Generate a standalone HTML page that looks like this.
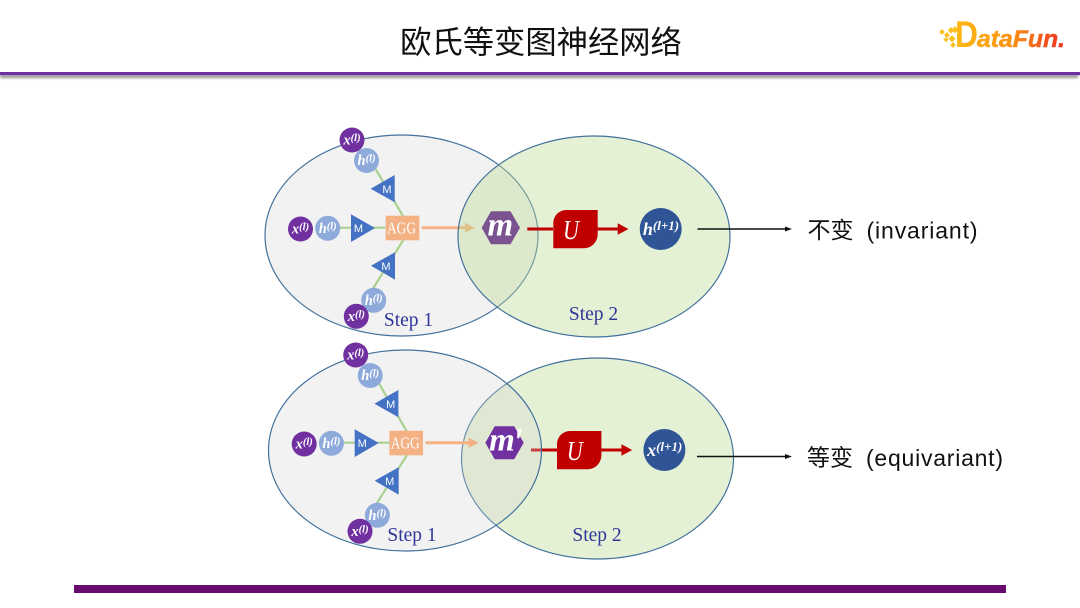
<!DOCTYPE html>
<html>
<head>
<meta charset="utf-8">
<style>
html,body{margin:0;padding:0;background:#fff;width:1080px;height:608px;overflow:hidden}
svg{display:block}
.v{font-family:"Liberation Serif",serif;font-weight:bold;font-style:italic;fill:#fff;text-anchor:middle}
.m{font-family:"Liberation Sans",sans-serif;font-size:11px;fill:#fff;text-anchor:middle}
.a{font-family:"Liberation Serif",serif;font-size:17px;fill:#fff}
.s{font-family:"Liberation Serif",serif;font-size:19.5px;fill:#2f3699;text-anchor:middle}
.l{font-family:"Liberation Sans","Noto Sans CJK SC",sans-serif;font-size:23px;fill:#111}
</style>
</head>
<body>
<svg width="1080" height="608" viewBox="0 0 1080 608" xmlns="http://www.w3.org/2000/svg">
<defs>
<linearGradient id="lg" x1="955" x2="1066" y1="0" y2="0" gradientUnits="userSpaceOnUse">
<stop offset="0" stop-color="#fdb813"/><stop offset=".5" stop-color="#fb9414"/><stop offset="1" stop-color="#ee2f24"/>
</linearGradient>
<filter id="bl" x="-5%" y="-200%" width="110%" height="500%"><feGaussianBlur stdDeviation="1.2"/></filter>
</defs>

<!-- header -->
<rect x="0" y="75" width="1078" height="3" fill="#8f8f8f" filter="url(#bl)"/>
<rect x="0" y="72" width="1080" height="3.2" fill="#7030a0"/>
<text x="541" y="53" text-anchor="middle" font-family="'Liberation Sans','Noto Sans CJK SC',sans-serif" font-size="31.3" fill="#111">欧氏等变图神经网络</text>

<!-- logo -->
<g fill="#fdc01a">
<rect x="940" y="30" width="4" height="4" transform="rotate(45 942 32)"/>
<rect x="945" y="33" width="4" height="4" transform="rotate(45 947 35)"/>
<rect x="949" y="28" width="4.5" height="4.5" transform="rotate(45 951 30)"/>
<rect x="953" y="27" width="5" height="5" transform="rotate(45 955 29)"/>
<rect x="950" y="36" width="5" height="5" transform="rotate(45 952 38)"/>
<rect x="944" y="38" width="3.5" height="3.5" transform="rotate(45 946 40)"/>
<rect x="951" y="43" width="4" height="4" transform="rotate(45 953 45)"/>
</g>
<text x="955" y="47" font-family="'Liberation Sans',sans-serif" font-weight="bold" font-size="37" fill="url(#lg)" textLength="23" lengthAdjust="spacingAndGlyphs">D</text>
<text x="977" y="47" font-family="'Liberation Sans',sans-serif" font-weight="bold" font-style="italic" font-size="24" fill="url(#lg)" stroke="url(#lg)" stroke-width=".5" textLength="88" lengthAdjust="spacingAndGlyphs">ataFun.</text>

<!-- TOP -->
<ellipse cx="401.5" cy="235.5" rx="136.5" ry="100.5" fill="#f2f2f2" stroke="#41719c" stroke-width="1.2"/>
<g fill="none" stroke="#a9d18e" stroke-width="2.2">
<path d="M375 168L403.3 216.7"/><path d="M340 227.7H385.7"/><path d="M403.3 240L373.3 288"/>
</g>
<circle cx="352" cy="140" r="12.5" fill="#7030a0"/>
<text class="v" x="352" y="144.5" font-size="14.5">x<tspan font-size="10.5" dy="-3.5">(l)</tspan></text>
<circle cx="366.5" cy="160.5" r="12.5" fill="#8eaadb"/>
<text class="v" x="366.5" y="165" font-size="14.5">h<tspan font-size="10.5" dy="-3.5">(l)</tspan></text>
<polygon points="370.7,188.7 394.7,175 394.7,202.3" fill="#4472c4"/>
<text class="m" x="387" y="193">M</text>
<circle cx="300.5" cy="229" r="12.5" fill="#7030a0"/>
<text class="v" x="300.5" y="233.5" font-size="14.5">x<tspan font-size="10.5" dy="-3.5">(l)</tspan></text>
<circle cx="327.7" cy="228.3" r="12.5" fill="#8eaadb"/>
<text class="v" x="327.7" y="232.8" font-size="14.5">h<tspan font-size="10.5" dy="-3.5">(l)</tspan></text>
<polygon points="351,214.3 351,242 375,228" fill="#4472c4"/>
<text class="m" x="358.5" y="232">M</text>
<rect x="385.7" y="215.7" width="33.6" height="24.6" fill="#f4b183"/>
<text class="a" x="387" y="233.5" textLength="29" lengthAdjust="spacingAndGlyphs">AGG</text>
<polygon points="371,265.7 395,252.3 395,279.7" fill="#4472c4"/>
<text class="m" x="386" y="270">M</text>
<circle cx="373.7" cy="300.3" r="12.5" fill="#8eaadb"/>
<text class="v" x="373.7" y="304.8" font-size="14.5">h<tspan font-size="10.5" dy="-3.5">(l)</tspan></text>
<circle cx="356.3" cy="316.3" r="12.5" fill="#7030a0"/>
<text class="v" x="356.3" y="320.8" font-size="14.5">x<tspan font-size="10.5" dy="-3.5">(l)</tspan></text>
<text class="s" x="408.5" y="326">Step 1</text>
<path d="M421.7 227.7H466" stroke="#f4b183" stroke-width="3" fill="none"/>
<polygon points="465,222.7 475,227.7 465,232.7" fill="#f4b183"/>
<ellipse cx="594" cy="236.5" rx="136" ry="100.5" fill="#bedc96" fill-opacity=".4" stroke="#41719c" stroke-width="1.2"/>
<polygon points="481.7,227.8 491,211.3 510.5,211.3 520,227.8 510.5,244.3 491,244.3" fill="#7a5290"/>
<text class="v" x="500.3" y="235.5" font-size="33">m</text>
<path d="M527.3 229H553" stroke="#c00000" stroke-width="3" fill="none"/>
<path d="M566.3 210H597.7V234.3A14 14 0 0 1 583.7 248.3H553.3V223A13 13 0 0 1 566.3 210Z" fill="#c00000"/>
<text x="563" y="239" font-family="'Liberation Serif',serif" font-style="italic" font-size="27" fill="#fff" textLength="16" lengthAdjust="spacingAndGlyphs">U</text>
<path d="M597 229H619" stroke="#c00000" stroke-width="3" fill="none"/>
<polygon points="617.7,223.3 628.5,229 617.7,234.7" fill="#c00000"/>
<circle cx="660.7" cy="229" r="21" fill="#2f5597"/>
<text class="v" x="661" y="235" font-size="18">h<tspan font-size="13" dy="-5">(l+1)</tspan></text>
<text class="s" x="593.5" y="320">Step 2</text>
<path d="M697.5 229H787" stroke="#111" stroke-width="1.4" fill="none"/>
<polygon points="785,226.5 792,229 785,231.5" fill="#111"/>
<text class="l" x="807.5" y="238">不变</text>
<text class="l" x="866.5" y="238.5" textLength="111">(invariant)</text>

<!-- BOTTOM -->
<ellipse cx="597.5" cy="458.5" rx="136" ry="100.5" fill="#e5f1d5" stroke="#41719c" stroke-width="1.2"/>
<path d="M531 450H557" stroke="#c00000" stroke-width="3" fill="none"/>
<ellipse cx="405" cy="450.5" rx="136.5" ry="100.5" fill="#d3d3d3" fill-opacity=".3" stroke="#41719c" stroke-width="1.2"/>
<g fill="none" stroke="#a9d18e" stroke-width="2.2">
<path d="M378.7 383L407 431.7"/><path d="M343.7 442.7H389.4"/><path d="M407 455L377 503"/>
</g>
<circle cx="355.7" cy="355" r="12.5" fill="#7030a0"/>
<text class="v" x="355.7" y="359.5" font-size="14.5">x<tspan font-size="10.5" dy="-3.5">(l)</tspan></text>
<circle cx="370.2" cy="375.5" r="12.5" fill="#8eaadb"/>
<text class="v" x="370.2" y="380" font-size="14.5">h<tspan font-size="10.5" dy="-3.5">(l)</tspan></text>
<polygon points="374.4,403.7 398.4,390 398.4,417.3" fill="#4472c4"/>
<text class="m" x="390.7" y="408">M</text>
<circle cx="304.2" cy="444" r="12.5" fill="#7030a0"/>
<text class="v" x="304.2" y="448.5" font-size="14.5">x<tspan font-size="10.5" dy="-3.5">(l)</tspan></text>
<circle cx="331.4" cy="443.3" r="12.5" fill="#8eaadb"/>
<text class="v" x="331.4" y="447.8" font-size="14.5">h<tspan font-size="10.5" dy="-3.5">(l)</tspan></text>
<polygon points="354.7,429.3 354.7,457 378.7,443" fill="#4472c4"/>
<text class="m" x="362.2" y="447">M</text>
<rect x="389.4" y="430.7" width="33.6" height="24.6" fill="#f4b183"/>
<text class="a" x="390.7" y="448.5" textLength="29" lengthAdjust="spacingAndGlyphs">AGG</text>
<polygon points="374.7,480.7 398.7,467.3 398.7,494.7" fill="#4472c4"/>
<text class="m" x="389.7" y="485">M</text>
<circle cx="377.4" cy="515.3" r="12.5" fill="#8eaadb"/>
<text class="v" x="377.4" y="519.8" font-size="14.5">h<tspan font-size="10.5" dy="-3.5">(l)</tspan></text>
<circle cx="360" cy="531.3" r="12.5" fill="#7030a0"/>
<text class="v" x="360" y="535.8" font-size="14.5">x<tspan font-size="10.5" dy="-3.5">(l)</tspan></text>
<text class="s" x="412" y="541">Step 1</text>
<path d="M425.4 442.7H470" stroke="#f4b183" stroke-width="3" fill="none"/>
<polygon points="468.7,437.7 478.7,442.7 468.7,447.7" fill="#f4b183"/>
<polygon points="485.4,442.8 494.7,426.3 514.2,426.3 523.7,442.8 514.2,459.3 494.7,459.3" fill="#7030a0"/>
<text class="v" x="502" y="450.5" font-size="33">m</text>
<text class="v" x="517.5" y="453" font-size="36" stroke="#fff" stroke-width=".5">'</text>
<path d="M570 431H601.4V455.3A14 14 0 0 1 587.4 469.3H557V444A13 13 0 0 1 570 431Z" fill="#c00000"/>
<text x="566.7" y="460" font-family="'Liberation Serif',serif" font-style="italic" font-size="27" fill="#fff" textLength="16" lengthAdjust="spacingAndGlyphs">U</text>
<path d="M600.7 450H622.7" stroke="#c00000" stroke-width="3" fill="none"/>
<polygon points="621.4,444.3 632.2,450 621.4,455.7" fill="#c00000"/>
<circle cx="664.4" cy="450" r="21" fill="#2f5597"/>
<text class="v" x="664.7" y="456" font-size="18">x<tspan font-size="13" dy="-5">(l+1)</tspan></text>
<text class="s" x="597" y="541">Step 2</text>
<path d="M697 456.5H787" stroke="#111" stroke-width="1.4" fill="none"/>
<polygon points="785,454 792,456.5 785,459" fill="#111"/>
<text class="l" x="807" y="465.5">等变</text>
<text class="l" x="866" y="466" textLength="137">(equivariant)</text>

<!-- footer -->
<rect x="74" y="585" width="932" height="8" fill="#6a0a70"/>
</svg>
</body>
</html>
